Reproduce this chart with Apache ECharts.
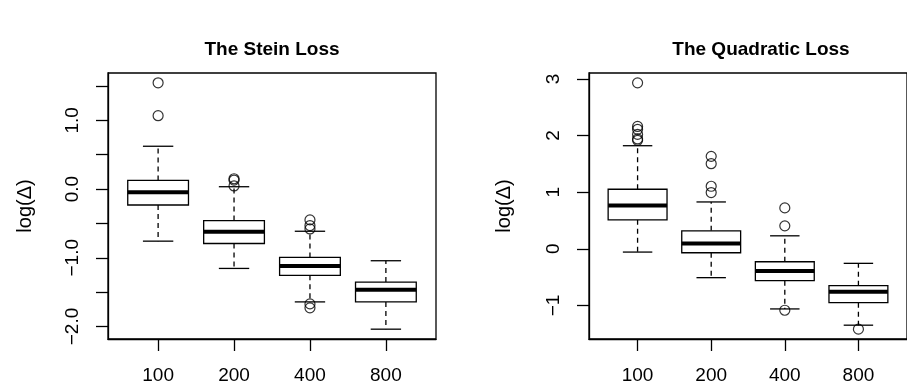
<!DOCTYPE html>
<html>
<head>
<meta charset="utf-8">
<script src="https://cdn.jsdelivr.net/npm/echarts@6/dist/echarts.min.js"></script>
<style>
  html, body { margin: 0; padding: 0; background: #fff; }
  #chart { width: 907px; height: 391px; }
</style>
</head>
<body>
<div id="chart"></div>
<script>
const categories = ["100", "200", "400", "800"];

// [lower whisker, Q1, median, Q3, upper whisker]
const steinStats = [
  [-0.758, -0.232, -0.048, 0.126, 0.623],
  [-1.155, -0.792, -0.623, -0.459, 0.034],
  [-1.642, -1.256, -1.121, -0.995, -0.614],
  [-2.039, -1.643, -1.464, -1.353, -1.043],
];
const steinOutliers = [
  [1, 1.546], [1, 1.068],
  [2, 0.150], [2, 0.130], [2, 0.045],
  [3, -0.449], [3, -0.531], [3, -0.580], [3, -1.671], [3, -1.729],
];

const quadStats = [
  [-0.058, 0.511, 0.764, 1.051, 1.820],
  [-0.510, -0.070, 0.095, 0.317, 0.827],
  [-1.062, -0.563, -0.393, -0.229, 0.229],
  [-1.349, -0.951, -0.757, -0.651, -0.257],
];
const quadOutliers = [
  [1, 2.930], [1, 2.160], [1, 2.110], [1, 2.020], [1, 1.940], [1, 1.915],
  [2, 1.632], [2, 1.503], [2, 1.104], [2, 0.993],
  [3, 0.722], [3, 0.405], [3, -1.085],
  [4, -1.419],
];

const steinTicks = [-2, -1.5, -1, -0.5, 0, 0.5, 1, 1.5];
const steinTickLabels = [-2, -1, 0, 1];
const quadTicks = [-1, 0, 1, 2, 3];
const boxPositions = [1, 2, 3, 4];

const font = "Liberation Sans, Arial, sans-serif";
const chart = echarts.init(document.getElementById("chart"));

function fmtMinus(s) {
  return String(s).replace("-", "\u2212");
}

function renderBox(params, api) {
  const x = api.value(0);
  const lo = api.coord([x, api.value(1)]);
  const q1 = api.coord([x, api.value(2)]);
  const med = api.coord([x, api.value(3)]);
  const q3 = api.coord([x, api.value(4)]);
  const hi = api.coord([x, api.value(5)]);
  const boxW = api.size([0.8, 0])[0];
  const capW = api.size([0.4, 0])[0];
  const cx = q1[0];
  const line = { stroke: "#000", lineWidth: 1.3, fill: null };
  return {
    type: "group",
    children: [
      { type: "line", shape: { x1: cx, y1: q3[1], x2: cx, y2: hi[1] }, style: { ...line, lineDash: [5, 4] } },
      { type: "line", shape: { x1: cx, y1: q1[1], x2: cx, y2: lo[1] }, style: { ...line, lineDash: [5, 4] } },
      { type: "line", shape: { x1: cx - capW / 2, y1: hi[1], x2: cx + capW / 2, y2: hi[1] }, style: line },
      { type: "line", shape: { x1: cx - capW / 2, y1: lo[1], x2: cx + capW / 2, y2: lo[1] }, style: line },
      { type: "rect", shape: { x: cx - boxW / 2, y: q3[1], width: boxW, height: q1[1] - q3[1] }, style: { stroke: "#000", lineWidth: 1.3, fill: "#fff" } },
      { type: "line", shape: { x1: cx - boxW / 2, y1: med[1], x2: cx + boxW / 2, y2: med[1] }, style: { stroke: "#000", lineWidth: 4 } },
    ],
  };
}

function boxData(stats) {
  return stats.map((s, i) => [boxPositions[i], ...s]);
}

function xAxis(gridIndex) {
  return {
    type: "value",
    gridIndex,
    position: "bottom",
    min: 0.34,
    max: 4.66,
    axisLine: { show: true, onZero: false, lineStyle: { color: "#000", width: 1.3 } },
    splitLine: { show: false },
    axisTick: { show: true, customValues: boxPositions, length: 12, lineStyle: { color: "#000", width: 1.3 } },
    axisLabel: {
      customValues: boxPositions,
      formatter: (v) => categories[v - 1],
      color: "#000",
      fontFamily: font,
      fontSize: 19,
      margin: 27,
    },
  };
}

function yAxis(gridIndex, min, max, ticks, labels, fmt) {
  return {
    type: "value",
    gridIndex,
    position: "left",
    min,
    max,
    axisLine: { show: true, onZero: false, lineStyle: { color: "#000", width: 1.3 } },
    splitLine: { show: false },
    axisTick: { show: true, customValues: ticks, length: 12, lineStyle: { color: "#000", width: 1.3 } },
    axisLabel: {
      customValues: labels,
      formatter: fmt,
      rotate: 90,
      color: "#000",
      fontFamily: font,
      fontSize: 19,
      margin: 26,
    },
  };
}

const option = {
  animation: false,
  backgroundColor: "#fff",
  grid: [
    { left: 108, top: 73, width: 328, height: 266, show: true, borderColor: "#000", borderWidth: 1.3, backgroundColor: "transparent" },
    { left: 589, top: 73, width: 327, height: 266, show: true, borderColor: "#000", borderWidth: 1.3, backgroundColor: "transparent" },
  ],
  xAxis: [xAxis(0), xAxis(1)],
  yAxis: [
    yAxis(0, -2.182, 1.689, steinTicks, steinTickLabels, (v) => fmtMinus(v.toFixed(1))),
    yAxis(1, -1.593, 3.104, quadTicks, quadTicks, (v) => fmtMinus(v)),
  ],
  graphic: [
    { type: "text", x: 272, y: 50, style: { text: "The Stein Loss", font: "bold 19px " + font, fill: "#000", align: "center", verticalAlign: "middle" } },
    { type: "text", x: 761, y: 50, style: { text: "The Quadratic Loss", font: "bold 19px " + font, fill: "#000", align: "center", verticalAlign: "middle" } },
    { type: "text", x: 25, y: 206, rotation: Math.PI / 2, style: { text: "log(\u0394)", font: "20px " + font, fill: "#000", align: "center", verticalAlign: "middle" } },
    { type: "text", x: 504, y: 206, rotation: Math.PI / 2, style: { text: "log(\u0394)", font: "20px " + font, fill: "#000", align: "center", verticalAlign: "middle" } },
  ],
  series: [
    { type: "custom", xAxisIndex: 0, yAxisIndex: 0, renderItem: renderBox, data: boxData(steinStats), z: 2 },
    { type: "custom", xAxisIndex: 1, yAxisIndex: 1, renderItem: renderBox, data: boxData(quadStats), z: 2 },
    {
      type: "scatter", xAxisIndex: 0, yAxisIndex: 0, data: steinOutliers, symbol: "circle", symbolSize: 10, z: 3,
      itemStyle: { color: "transparent", borderColor: "#000", borderWidth: 1.2 },
    },
    {
      type: "scatter", xAxisIndex: 1, yAxisIndex: 1, data: quadOutliers, symbol: "circle", symbolSize: 10, z: 3,
      itemStyle: { color: "transparent", borderColor: "#000", borderWidth: 1.2 },
    },
  ],
};

chart.setOption(option);
</script>
</body>
</html>
